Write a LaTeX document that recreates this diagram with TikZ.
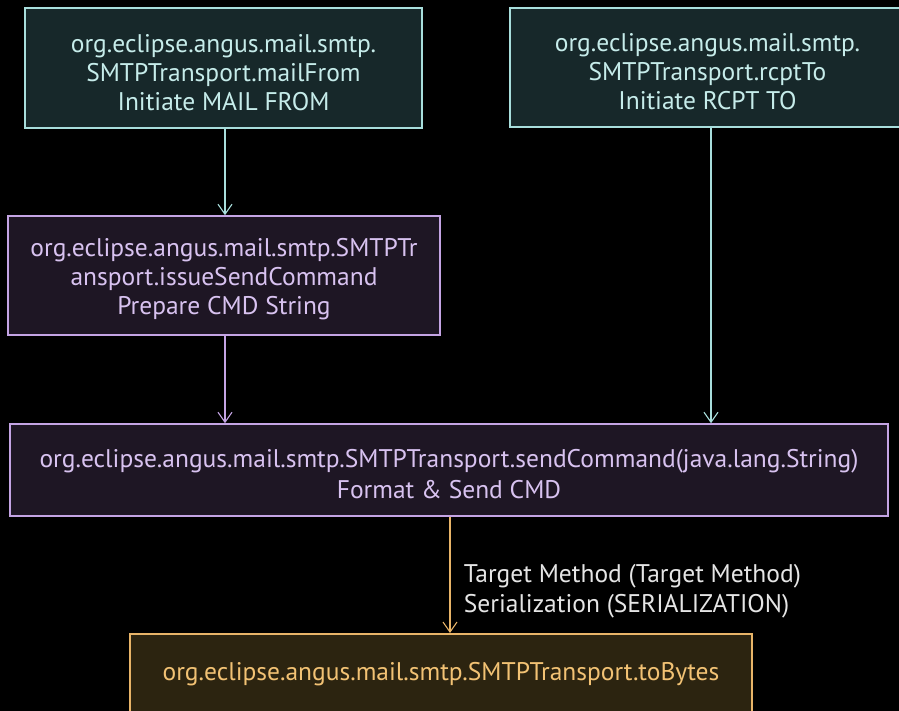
\documentclass[tikz,border=0pt]{standalone}
\usepackage{fontspec}
\setmainfont{PT Sans}
\usetikzlibrary{arrows.meta}

\definecolor{tealline}{HTML}{A8DEDC}
\definecolor{tealfill}{HTML}{17282A}
\definecolor{tealtext}{HTML}{C6ECEA}
\definecolor{lilaline}{HTML}{C4A4E4}
\definecolor{lilafill}{HTML}{1E1624}
\definecolor{lilatext}{HTML}{D8C2F0}
\definecolor{goldline}{HTML}{E8B468}
\definecolor{goldfill}{HTML}{2C2410}
\definecolor{goldtext}{HTML}{F2C274}

\tikzset{
  box/.style={draw, line width=1.6pt, align=center, inner sep=0pt,
    font=\fontsize{25.5}{29}\selectfont},
  tealbox/.style={box, draw=tealline, fill=tealfill, text=tealtext},
  lilabox/.style={box, draw=lilaline, fill=lilafill, text=lilatext},
  goldbox/.style={box, draw=goldline, fill=goldfill, text=goldtext},
  flow/.style={line width=1.1pt, -{Straight Barb[length=10pt,width=14pt]}}
}

\begin{document}
\begin{tikzpicture}[x=1pt,y=-1pt]
  \fill[black] (0,0) rectangle (899,711);
  \useasboundingbox (0,0) rectangle (899,711);
  % top row
  \node[tealbox, minimum width=397pt, minimum height=120pt] (mailfrom) at (223.5,68)
    {\rule{0pt}{27pt}org.eclipse.angus.mail.smtp.\\SMTPTransport.mailFrom\\Initiate MAIL FROM};
  \node[tealbox, minimum width=395pt, minimum height=119pt] (rcptto) at (707.5,67.5)
    {\rule{0pt}{27pt}org.eclipse.angus.mail.smtp.\\SMTPTransport.rcptTo\\Initiate RCPT TO};
  % middle
  \node[lilabox, minimum width=432pt, minimum height=119pt] (issuecmd) at (224,275.5)
    {\rule{0pt}{25pt}org.eclipse.angus.mail.smtp.SMTPTr\\ansport.issueSendCommand\\Prepare CMD String};
  \node[lilabox, minimum width=878pt, minimum height=92pt,
    font=\fontsize{25.5}{31}\selectfont] (sendcmd) at (449,470)
    {\rule{0pt}{27pt}org.eclipse.angus.mail.smtp.SMTPTransport.sendCommand(java.lang.String)\\Format \& Send CMD};
  % bottom, runs off the page
  \node[goldbox, minimum width=622pt, text height=47pt, text depth=60pt, anchor=north] (tobytes) at (441,633)
    {org.eclipse.angus.mail.smtp.SMTPTransport.toBytes};
  % arrows
  \draw[flow, tealline] (mailfrom.south -| 225,0) -- (issuecmd.north -| 225,0);
  \draw[flow, tealline] (rcptto.south -| 711,0) -- (sendcmd.north -| 711,0);
  \draw[flow, lilaline] (issuecmd.south -| 225,0) -- (sendcmd.north -| 225,0);
  \draw[flow, goldline] (sendcmd.south -| 450,0) -- (tobytes.north -| 450,0)
    node[pos=0.64, right=10pt, align=left, text=white!90!black,
      font=\fontsize{25.5}{30}\selectfont]
    {Target Method (Target Method)\\Serialization (SERIALIZATION)};
\end{tikzpicture}
\end{document}
